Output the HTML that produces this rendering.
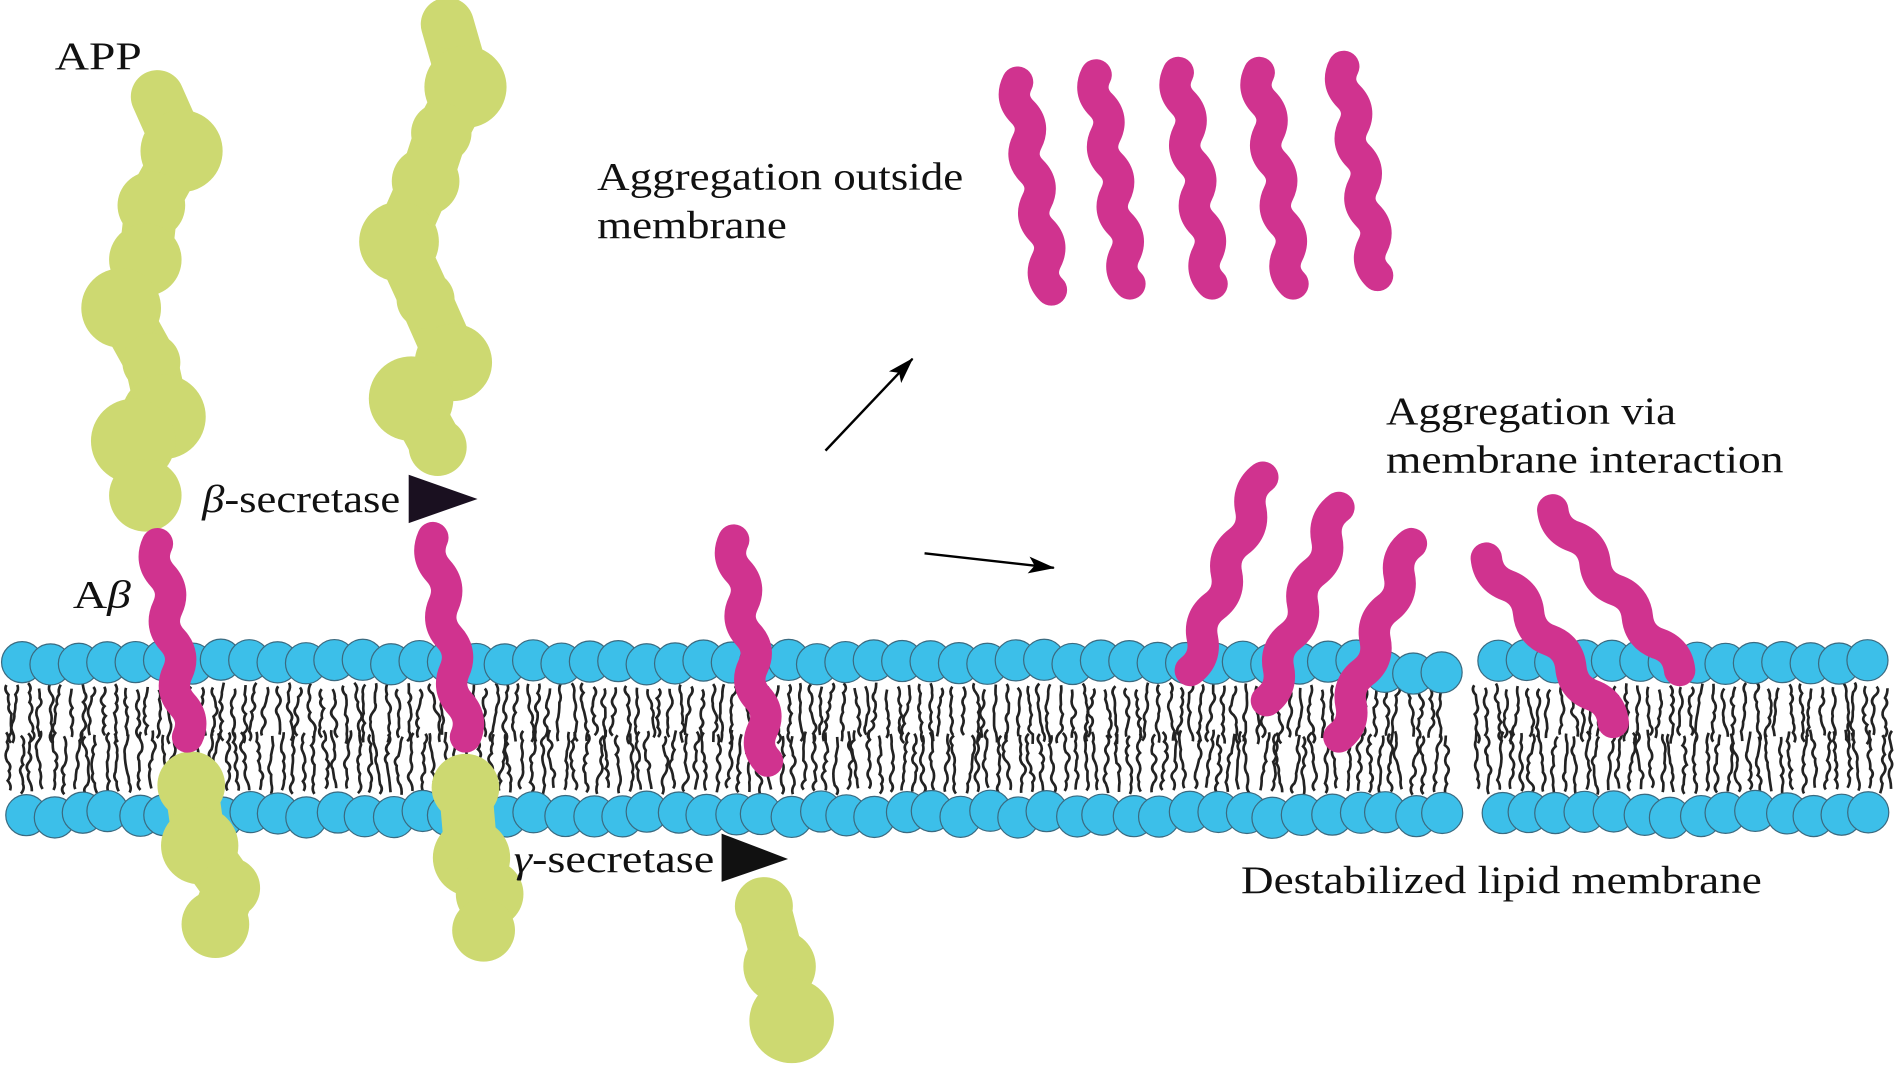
<!DOCTYPE html>
<html><head><meta charset="utf-8"><style>
html,body{margin:0;padding:0;background:#fff;}
svg{display:block;}
text{font-family:"Liberation Serif",serif;font-size:32px;fill:#111;}
</style></head><body>
<svg id="s" width="1895" height="1074" viewBox="0 0 1568 889" xmlns="http://www.w3.org/2000/svg">
<defs><marker id="ah" markerWidth="22" markerHeight="14" refX="21" refY="7" orient="auto" markerUnits="userSpaceOnUse" viewBox="0 0 22 14"><path d="M0,0 L22,7 L0,14 L5,7 Z" fill="#000"/></marker></defs>
<g id="tails" stroke="#222" stroke-width="2.2" fill="none"></g>
<g id="heads" fill="#3cbfe9" stroke="#3a6a80" stroke-width="1"></g>
<g id="green" fill="#cdd971" stroke="#cdd971" stroke-linejoin="round" stroke-linecap="round"></g>
<g id="pink" fill="none" stroke="#d0338f" stroke-width="26" stroke-linecap="round" stroke-linejoin="round"></g>
<polygon points="338,393 338,433 395,413" fill="#1a1020"/>
<polygon points="597,690 597,730 652,711" fill="#111"/>
<line x1="683" y1="373" x2="755" y2="297" stroke="#000" stroke-width="2" marker-end="url(#ah)"/>
<line x1="765" y1="458" x2="872" y2="470" stroke="#000" stroke-width="2" marker-end="url(#ah)"/>
<text x="45" y="57" textLength="72" lengthAdjust="spacingAndGlyphs">APP</text>
<text x="167" y="424" textLength="164" lengthAdjust="spacingAndGlyphs"><tspan font-style="italic">β</tspan>-secretase</text>
<text x="60" y="503" textLength="48" lengthAdjust="spacingAndGlyphs">A<tspan font-style="italic">β</tspan></text>
<text x="425" y="722" textLength="166" lengthAdjust="spacingAndGlyphs"><tspan font-style="italic">γ</tspan>-secretase</text>
<text x="494" y="157" textLength="303" lengthAdjust="spacingAndGlyphs">Aggregation outside</text>
<text x="494" y="197" textLength="157" lengthAdjust="spacingAndGlyphs">membrane</text>
<text x="1147" y="351" textLength="240" lengthAdjust="spacingAndGlyphs">Aggregation via</text>
<text x="1147" y="391" textLength="329" lengthAdjust="spacingAndGlyphs">membrane interaction</text>
<text x="1027" y="739" textLength="431" lengthAdjust="spacingAndGlyphs">Destabilized lipid membrane</text>
</svg>
<script>
var NS="http://www.w3.org/2000/svg";
function el(p,t,a){var e=document.createElementNS(NS,t);for(var k in a)e.setAttribute(k,a[k]);document.getElementById(p).appendChild(e);return e;}
var seed=3;function r(){seed=(seed*9301+49297)%233280;return seed/233280;}
for(var x=5;x<1568;x+=9){
 if(x>1198&&x<1212)continue;
 var y0=565+r()*6,d="M"+x+","+y0;
 for(var y=y0;y<608;y+=8){d+=" q"+(r()*8-4)+",4 "+(r()*4-2)+",8";}
 el("tails","path",{d:d});
 var y1=658-r()*6;d="M"+(x+3)+","+y1;
 for(var y=y1;y>612;y-=8){d+=" q"+(r()*8-4)+",-4 "+(r()*4-2)+",-8";}
 el("tails","path",{d:d});
}
for(var x=18;x<1568;x+=23.5){
 if(x>1200&&x<1222)continue;
 var dy=(x>1140&&x<1200)?8:0;
 el("heads","circle",{cx:x,cy:548+dy+(r()*4-2),r:17});
 el("heads","circle",{cx:x+r()*4,cy:674+(r()*6-3),r:17});
}
function blob(pts){var d="M"+pts[0][0]+","+pts[0][1];for(var i=1;i<pts.length;i++)d+=" L"+pts[i][0]+","+pts[i][1];
 el("green","path",{d:d,fill:"none","stroke-width":44});
 pts.forEach(function(p){el("green","circle",{cx:p[0],cy:p[1],r:p[2],"stroke-width":0});});}
blob([[130,80,20],[150,125,34],[125,170,28],[120,215,30],[100,255,33],[125,300,24],[135,345,35],[110,365,35],[120,410,30]]);
blob([[370,20,20],[385,72,34],[365,110,25],[352,150,28],[330,200,33],[352,248,24],[375,300,32],[340,330,35],[362,370,24]]);
blob([[158,650,28],[165,700,32],[190,735,25],[178,765,28]]);
blob([[385,652,28],[390,710,32],[405,740,28],[400,770,26]]);
blob([[632,750,24],[645,800,30],[655,845,35]]);
function wig(x1,y1,x2,y2,n,a){var dx=x2-x1,dy=y2-y1,L=Math.hypot(dx,dy),nx=-dy/L,ny=dx/L,d="M"+x1+","+y1;
 for(var i=1;i<=n;i++){var t0=(i-0.5)/n,t1=i/n,s=(i%2?1:-1)*a;
  d+=" Q"+(x1+dx*t0+nx*s)+","+(y1+dy*t0+ny*s)+" "+(x1+dx*t1)+","+(y1+dy*t1);}
 el("pink","path",{d:d});}
var A=9;
wig(130,450,155,610,6,A);wig(358,445,385,610,6,A);wig(607,447,635,630,7,A);
wig(842,68,870,240,7,A);wig(907,62,935,235,7,A);wig(975,60,1003,235,7,A);wig(1042,60,1070,235,7,A);wig(1112,55,1140,228,7,A);
wig(1045,395,985,555,6,A);wig(1108,420,1048,580,6,A);wig(1168,450,1108,610,6,A);wig(1230,462,1335,598,6,A);wig(1285,422,1390,555,6,A);
</script>
</body></html>
